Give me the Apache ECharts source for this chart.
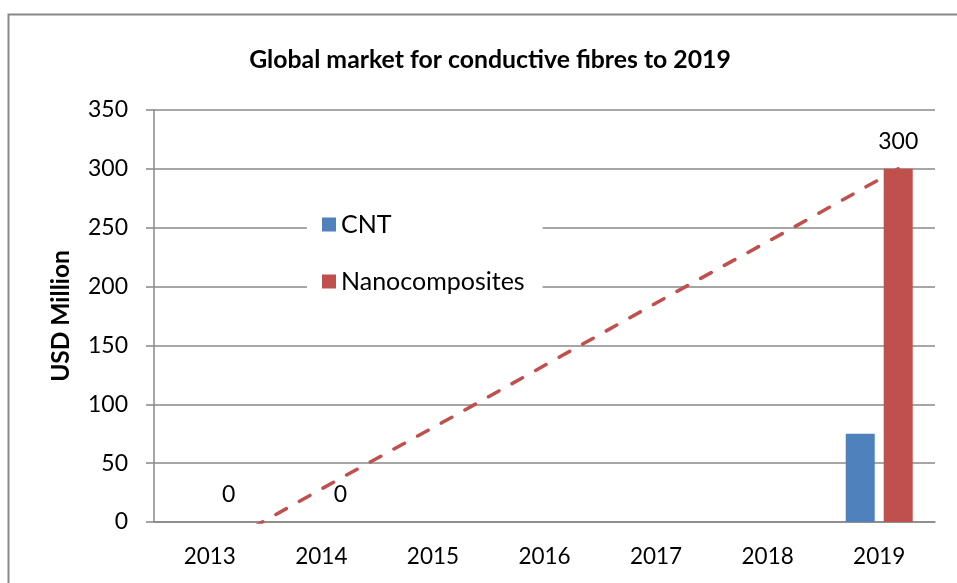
<!DOCTYPE html>
<html>
<head>
<meta charset="utf-8">
<script src="https://cdn.jsdelivr.net/npm/echarts@6/dist/echarts.min.js"></script>
<style>
  html, body { margin: 0; padding: 0; background: #fff; }
  #main { width: 957px; height: 583px; }
</style>
</head>
<body>
<div id="main"></div>
<script>
var years = ['2013', '2014', '2015', '2016', '2017', '2018', '2019'];
var cnt = [null, null, null, null, null, null, 75];
var nanocomposites = [0, 0, null, null, null, null, 300];
// dashed trend line of Nanocomposites
var trend = [-16, 37, 89, 142, 195, 247, 300];

var trendOffset = 0.17;   // nanocomposites bar sits right of the category centre
var font = 'Lato';
var grey = '#888888';

var myChart = echarts.init(document.getElementById('main'), null, { renderer: 'canvas' });

var option = {
    animation: false,
    textStyle: { fontFamily: font },
    graphic: [{
        type: 'rect',
        shape: { x: 8.5, y: 14.5, width: 1000, height: 1000 },
        style: { fill: 'none', stroke: grey, lineWidth: 2 },
        silent: true
    }],
    title: {
        text: 'Global market for conductive fibres to 2019',
        left: 485,
        textAlign: 'center',
        top: 43,
        textStyle: { fontFamily: font, fontSize: 24.8, fontWeight: 'bold', color: '#000' }
    },
    legend: {
        orient: 'vertical',
        left: 307,
        top: 204,
        padding: [8, 18, 8, 15],
        backgroundColor: '#fff',
        itemWidth: 14,
        itemHeight: 14,
        itemGap: 32,
        icon: 'rect',
        textStyle: { fontFamily: font, fontSize: 25, color: '#000' },
        data: ['CNT', 'Nanocomposites']
    },
    grid: { left: 154, right: 22, top: 110, bottom: 61 },
    xAxis: [{
        type: 'category',
        data: years,
        axisLine: { lineStyle: { color: grey, width: 1.5 } },
        axisTick: { show: false },
        axisLabel: { color: '#000', fontSize: 22.5, margin: 23, fontFamily: font }
    }, {
        type: 'value',
        min: -0.5,
        max: 6.5,
        show: false
    }],
    yAxis: {
        type: 'value',
        min: 0,
        max: 350,
        interval: 50,
        name: 'USD Million',
        nameLocation: 'middle',
        nameGap: 80,
        nameTextStyle: { fontFamily: font, fontSize: 24.5, fontWeight: 'bold', color: '#000' },
        axisLine: { show: true, onZero: false, lineStyle: { color: grey, width: 1.5 } },
        axisTick: { show: true, length: 8, lineStyle: { color: grey, width: 1.5 } },
        axisLabel: { color: '#000', fontSize: 23, margin: 26, fontFamily: font },
        splitLine: { lineStyle: { color: grey, width: 1.5 } }
    },
    series: [
        {
            name: 'CNT',
            type: 'bar',
            barWidth: 29,
            barGap: '31%',
            itemStyle: { color: '#4F81BD' },
            data: cnt
        },
        {
            name: 'Nanocomposites',
            type: 'bar',
            barWidth: 29,
            itemStyle: { color: '#C0504D' },
            label: {
                show: true,
                position: 'top',
                distance: 16,
                color: '#000',
                fontSize: 23,
                fontFamily: font
            },
            data: nanocomposites
        },
        {
            name: 'trend',
            type: 'line',
            xAxisIndex: 1,
            symbol: 'none',
            clip: true,
            z: 1,
            lineStyle: { color: '#C0504D', width: 3.5, type: [12, 15], cap: 'round' },
            data: trend.map(function (v, i) { return [i + trendOffset, v]; })
        }
    ]
};

myChart.setOption(option);
window.addEventListener('resize', myChart.resize);
</script>
</body>
</html>
